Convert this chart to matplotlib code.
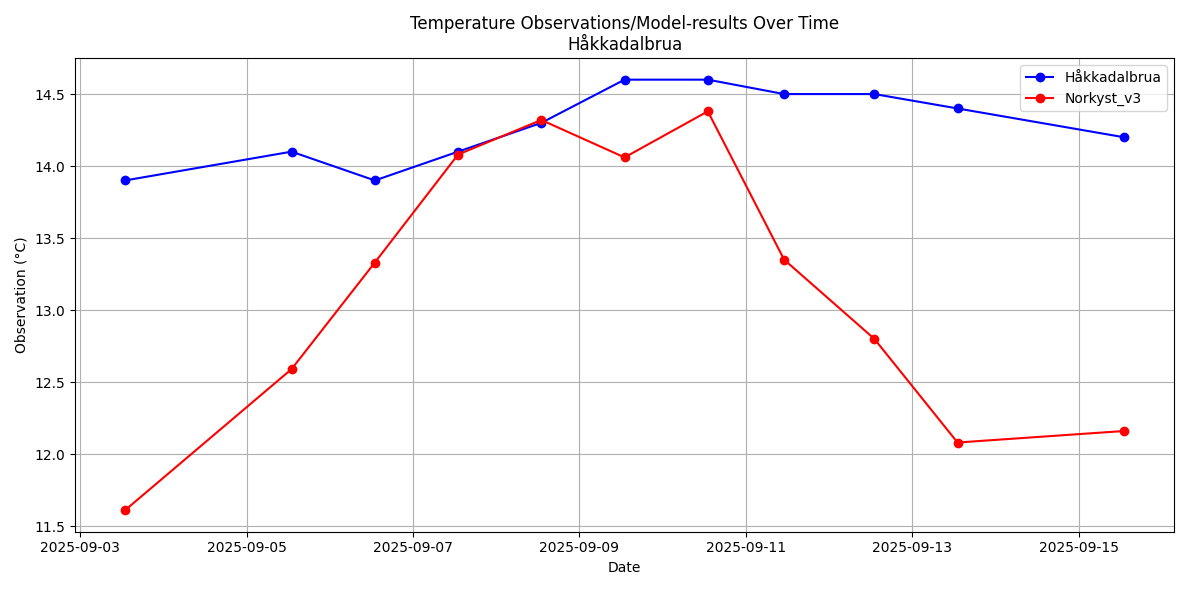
import matplotlib
matplotlib.use("Agg")
import matplotlib.pyplot as plt
import matplotlib.dates as mdates
import pandas as pd

times = ["2025-09-03 13:00", "2025-09-05 13:00", "2025-09-06 13:00", "2025-09-07 13:00",
         "2025-09-08 13:00", "2025-09-09 13:00", "2025-09-10 13:00", "2025-09-11 11:00",
         "2025-09-12 13:00", "2025-09-13 13:00", "2025-09-15 13:00"]
obs = [13.9, 14.1, 13.9, 14.1, 14.3, 14.6, 14.6, 14.5, 14.5, 14.4, 14.2]
model = [11.61, 12.59, 13.33, 14.08, 14.32, 14.06, 14.38, 13.35, 12.80, 12.08, 12.16]
dates = pd.to_datetime(times)

fig, ax = plt.subplots(figsize=(11.89, 5.9), dpi=100)
ax.plot(dates, obs, "o-", color="blue", label="Håkkadalbrua")
ax.plot(dates, model, "o-", color="red", label="Norkyst_v3")
ax.set_title("Temperature Observations/Model-results Over Time\nHåkkadalbrua")
ax.set_xlabel("Date")
ax.set_ylabel("Observation (°C)")
ax.xaxis.set_major_locator(mdates.DayLocator(interval=2))
ax.xaxis.set_major_formatter(mdates.DateFormatter("%Y-%m-%d"))
ax.grid(True)
ax.legend(loc="upper right")
fig.tight_layout()
fig.savefig("out.png")
